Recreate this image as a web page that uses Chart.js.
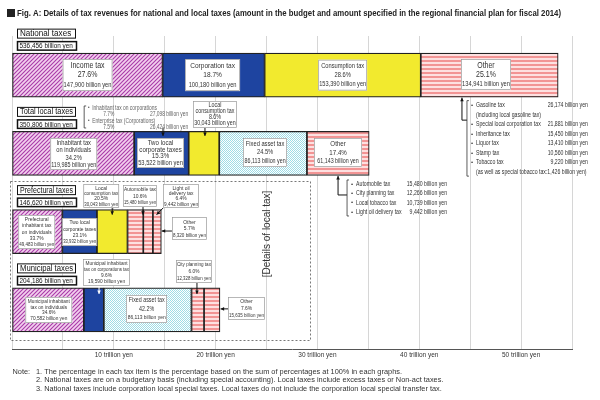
<!DOCTYPE html>
<html>
<head>
<meta charset="utf-8">
<script src="https://cdn.jsdelivr.net/npm/chart.js@4"></script>
<style>
  html, body { margin: 0; padding: 0; background: #fff; }
  canvas { display: block; }
</style>
</head>
<body>
<canvas id="c" width="600" height="400"></canvas>
<script>
// ── Data (amounts in "billion yen" as printed on the figure) ─────────────────
const ROWS = ['National taxes', 'Total local taxes', 'Prefectural taxes', 'Municipal taxes'];
const ROW_TOTALS = ['536,456', '350,806', '146,620', '204,186'];

const nationalNames  = ['Income tax', 'Corporation tax', 'Consumption tax', 'Other'];
const nationalValues = [147900, 100180, 153390, 134941];
const nationalShares = [27.6, 18.7, 28.6, 25.1];

const localNames  = ['Inhabitant tax\non individuals', 'Two local\ncorporate taxes', 'Local\nconsumption tax', 'Fixed asset tax', 'Other'];
const localValues = [119985, 53522, 30043, 86113, 61143];
const localShares = [34.2, 15.3, 8.6, 24.5, 17.4];

const prefNames  = ['Prefectural\ninhabitant tax\non individuals', 'Two local\ncorporate taxes', 'Local\nconsumption tax', 'Automobile tax', 'Light oil\ndelivery tax', 'Other'];
const prefValues = [49483, 33932, 30043, 15480, 9442, 8320];
const prefShares = [33.7, 23.1, 20.5, 10.6, 6.4, 5.7];

const muniNames  = ['Municipal inhabitant\ntax on individuals', 'Municipal inhabitant\ntax on corporations tax', 'Fixed asset tax', 'City planning tax', 'Other'];
const muniValues = [70582, 19590, 86113, 12328, 15635];
const muniShares = [34.6, 9.6, 42.2, 6.0, 7.6];

const nationalOtherItems   = ['Gasoline tax', '(including local gasoline tax)', 'Special local corporation tax', 'Inheritance tax', 'Liquor tax', 'Stamp tax', 'Tobacco tax', '(as well as special tobacco tax:1,426 billion yen)'];
const nationalOtherAmounts = [26174, null, 21881, 15450, 13410, 10560, 9220, null];
const localOtherItems   = ['Automobile tax', 'City planning tax', 'Local tobacco tax', 'Light oil delivery tax'];
const localOtherAmounts = [15480, 12266, 10739, 9442];
const corpItems   = ['Inhabitant tax on corporations', 'Enterprise tax (Corporations)'];
const corpShares  = [7.7, 7.5];
const corpAmounts = [27098, 26424];

const AXIS_MAX = 550000;
const AXIS_STEP = 50000;

const TITLE = 'Fig. A: Details of tax revenues for national and local taxes (amount in the budget and amount specified in the regional financial plan for fiscal 2014)';
const NOTES = [
  '1. The percentage in each tax item is the percentage based on the sum of percentages at 100% in each graphs.',
  '2. National taxes are on a budgetary basis (including special accounting). Local taxes include excess taxes or Non-act taxes.',
  '3. National taxes include corporation local special taxes. Local taxes do not include the corporation local special transfer tax.',
];

const ROW_NAMES  = [nationalNames, localNames, prefNames, muniNames];
const ROW_VALUES = [nationalValues, localValues, prefValues, muniValues];
const ROW_SHARES = [nationalShares, localShares, prefShares, muniShares];

// ── Styles ───────────────────────────────────────────────────────────────────
const FONT = '"Liberation Sans", Arial, sans-serif';
const FILLS = [
  ['hatch', 'blue', 'yellow', 'stripe'],
  ['hatch', 'blue', 'yellow', 'check', 'stripe'],
  ['hatch', 'blue', 'yellow', 'stripe', 'stripe', 'stripe'],
  ['hatch', 'blue', 'check', 'stripe', 'stripe'],
];

// label boxes: centre x = segment centre + dx, top = bar top + dy; arrow relative to (segment centre, bar top)
const LAYOUT = [
  [
    { dx: 0,    dy: 6,   w: 50, h: 32, fs: 8.5, fa: 7 },
    { dx: -1,   dy: 6,   w: 55, h: 32, fs: 8,   fa: 7 },
    { dx: 0,    dy: 6.5, w: 49, h: 31, fs: 7,   fa: 7 },
    { dx: -3.5, dy: 6,   w: 50, h: 31, fs: 8.5, fa: 7 },
  ],
  [
    { dx: 0.4, dy: 6.6,   w: 47, h: 32, fs: 7,   fa: 7 },
    { dx: -0.9, dy: 6.6,  w: 47, h: 30, fs: 7.5, fa: 7 },
    { dx: 11,  dy: -30.4, w: 44, h: 27, fs: 6.5, fa: 6.5, arrow: [1, -3.4, 1, 4.5] },
    { dx: 2,   dy: 6.6,   w: 44, h: 29, fs: 7,   fa: 6.5 },
    { dx: 0,   dy: 6.6,   w: 48, h: 29, fs: 7.5, fa: 6.5 },
  ],
  [
    { dx: -0.7, dy: 5.4,  w: 37, h: 34, fs: 6, fa: 5.8 },
    { dx: 0,    dy: 8.4,  w: 35, h: 28, fs: 6, fa: 5.8 },
    { dx: -11,  dy: -25.6, w: 36, h: 24, fs: 6, fa: 5.8, arrow: [0, -1.6, 0, 5] },
    { dx: 4.6,  dy: -24.6, w: 34, h: 22, fs: 6, fa: 5.8, arrow: [7.6, -2.6, 7.6, 5] },
    { dx: 33,   dy: -25.6, w: 36, h: 24, fs: 6, fa: 5.8, arrow: [15, -1.6, 8.5, 5] },
    { dx: 32.3, dy: 7.4,  w: 35, h: 23, fs: 6, fa: 5.8, arrow: [15, 21.4, 4.6, 21.4] },
  ],
  [
    { dx: 0.6,  dy: 9,   w: 47, h: 26, fs: 5.8, fa: 5.8 },
    { dx: 12.7, dy: -29, w: 47, h: 27, fs: 5.8, fa: 5.8, arrow: [5.2, -2, 5.2, 6], arrowColor: '#fff' },
    { dx: -1,   dy: 7,   w: 41, h: 28, fs: 6.5, fa: 6 },
    { dx: -3.8, dy: -28, w: 36, h: 23, fs: 5.8, fa: 5.8, arrow: [-0.8, -5, -0.8, 6] },
    { dx: 34.5, dy: 9,   w: 37, h: 23, fs: 6,   fa: 5.8, arrow: [16, 21, 8.6, 21] },
  ],
];

function makePattern(w, h, draw) {
  const cv = document.createElement('canvas');
  cv.width = w; cv.height = h;
  const g = cv.getContext('2d');
  draw(g);
  return g.createPattern(cv, 'repeat');
}

const PAT = {
  blue: '#1e44a0',
  yellow: '#f2ea2e',
  hatch: makePattern(4, 4, g => {
    g.fillStyle = '#f3d0ee'; g.fillRect(0, 0, 4, 4);
    g.strokeStyle = '#a83aa8'; g.lineWidth = 1.1;
    [[0, 4, 4, 0], [-1, 1, 1, -1], [3, 5, 5, 3]].forEach(([a, b, c, d]) => {
      g.beginPath(); g.moveTo(a, b); g.lineTo(c, d); g.stroke();
    });
  }),
  stripe: makePattern(1, 4, g => {
    g.fillStyle = '#f29494'; g.fillRect(0, 0, 1, 2);
    g.fillStyle = '#fde0e0'; g.fillRect(0, 2, 1, 2);
  }),
  check: makePattern(2, 2, g => {
    g.fillStyle = '#ffffff'; g.fillRect(0, 0, 2, 2);
    g.fillStyle = '#9fdce6'; g.fillRect(0, 0, 1, 1); g.fillRect(1, 1, 1, 1);
  }),
};

// ── Drawing helpers ──────────────────────────────────────────────────────────
function txt(ctx, s, x, y, size, opts = {}) {
  const { align = 'center', sx = 0.82, bold = false, color = '#333', fit = 0 } = opts;
  ctx.save();
  ctx.font = `${bold ? 'bold ' : ''}${size}px ${FONT}`;
  let k = sx;
  if (fit) k = Math.min(sx, fit / ctx.measureText(s).width);
  ctx.fillStyle = color;
  ctx.textBaseline = 'middle';
  ctx.textAlign = align;
  ctx.translate(x, y);
  ctx.scale(k, 1);
  ctx.fillText(s, 0, 0);
  ctx.restore();
}

function arrow(ctx, x1, y1, x2, y2, color = '#111') {
  ctx.save();
  ctx.strokeStyle = color; ctx.fillStyle = color; ctx.lineWidth = 1;
  ctx.beginPath(); ctx.moveTo(x1, y1); ctx.lineTo(x2, y2); ctx.stroke();
  const a = Math.atan2(y2 - y1, x2 - x1), L = 3.5, W = 1.8;
  ctx.beginPath();
  ctx.moveTo(x2, y2);
  ctx.lineTo(x2 - L * Math.cos(a) + W * Math.sin(a), y2 - L * Math.sin(a) - W * Math.cos(a));
  ctx.lineTo(x2 - L * Math.cos(a) - W * Math.sin(a), y2 - L * Math.sin(a) + W * Math.cos(a));
  ctx.closePath(); ctx.fill();
  ctx.restore();
}

function bracket(ctx, x, y1, y2) {
  ctx.save();
  ctx.strokeStyle = '#333'; ctx.lineWidth = 0.8;
  ctx.beginPath();
  ctx.moveTo(x + 2, y1); ctx.lineTo(x, y1); ctx.lineTo(x, y2); ctx.lineTo(x + 2, y2);
  ctx.stroke();
  ctx.restore();
}

function box(ctx, x, y, w, h, lw = 0.7, stroke = '#999') {
  ctx.save();
  ctx.fillStyle = '#fff';
  ctx.fillRect(x, y, w, h);
  ctx.strokeStyle = stroke; ctx.lineWidth = lw;
  ctx.strokeRect(x + 0.5, y + 0.5, w - 1, h - 1);
  ctx.restore();
}

const fmt = v => v.toLocaleString('en-US');

function segment(chart, k, r) {
  const el = chart.getDatasetMeta(k).data[r];
  const p = el.getProps(['x', 'base', 'y', 'height'], true);
  const start = Math.min(p.x, p.base), end = Math.max(p.x, p.base);
  return { start, end, mid: (start + end) / 2, top: p.y - p.height / 2, bottom: p.y + p.height / 2 };
}

// ── Annotation plugin ────────────────────────────────────────────────────────
const annotations = {
  id: 'annotations',
  afterDraw(chart) {
    const ctx = chart.ctx;

    // title
    ctx.fillStyle = '#222';
    ctx.fillRect(7, 9, 8, 8);
    txt(ctx, TITLE, 17, 13.5, 9.5, { align: 'left', bold: true, sx: 5, fit: 544, color: '#222' });

    // notes
    ctx.save();
    ctx.font = `7px ${FONT}`;
    const nsx = 366 / ctx.measureText(NOTES[0]).width;
    ctx.restore();
    txt(ctx, 'Note:', 12.5, 372, 7, { align: 'left', sx: nsx });
    NOTES.forEach((n, i) => txt(ctx, n, 36, 372 + i * 8.3, 7, { align: 'left', sx: nsx }));

    // dashed frame around local-tax details
    ctx.save();
    ctx.setLineDash([2, 2]);
    ctx.strokeStyle = '#555'; ctx.lineWidth = 0.8;
    ctx.strokeRect(10.5, 181.5, 300, 159);
    ctx.restore();
    ctx.save();
    ctx.translate(267, 234);
    ctx.rotate(-Math.PI / 2);
    txt(ctx, '[Details of local tax]', 0, 0, 10, { sx: 1, color: '#333' });
    ctx.restore();

    ROWS.forEach((name, r) => {
      const first = segment(chart, 0, r);
      // row name + total
      box(ctx, 17, first.top - 24.5, 59, 10, 1, '#111');
      txt(ctx, name, 20, first.top - 19.3, 8.5, { align: 'left', sx: 0.95, fit: 53, color: '#111' });
      box(ctx, 17, first.top - 12, 60, 9.5, 1.5, '#111');
      txt(ctx, `${ROW_TOTALS[r]} billion yen`, 19.5, first.top - 7, 8, { align: 'left', sx: 0.8, fit: 55, color: '#111' });

      // segment labels
      ROW_VALUES[r].forEach((v, k) => {
        const s = segment(chart, k, r);
        const L = LAYOUT[r][k];
        if (L.arrow) {
          const [x1, y1, x2, y2] = L.arrow;
          arrow(ctx, s.mid + x1, s.top + y1, s.mid + x2, s.top + y2, L.arrowColor || '#111');
        }
        const bx = s.mid + L.dx - L.w / 2, by = s.top + L.dy;
        box(ctx, bx, by, L.w, L.h);
        const lines = ROW_NAMES[r][k].split('\n').map(t => [t, L.fs]);
        lines.push([`${ROW_SHARES[r][k].toFixed(1)}%`, L.fs]);
        lines.push([`${fmt(v)} billion yen`, L.fa]);
        const step = (L.h - 3) / lines.length;
        lines.forEach(([t, size], i) => txt(ctx, t, s.mid + L.dx, by + 1.5 + step * (i + 0.5), size, { fit: L.w - 2 }));
      });
    });

    // national "Other" breakdown
    const nOther = segment(chart, 3, 0);
    const ax = nOther.mid - 27.5, bx = ax + 5;
    ctx.save(); ctx.strokeStyle = '#111'; ctx.lineWidth = 1;
    ctx.beginPath(); ctx.moveTo(ax, nOther.bottom + 23); ctx.lineTo(bx, nOther.bottom + 23); ctx.stroke();
    ctx.restore();
    arrow(ctx, ax, nOther.bottom + 23, ax, nOther.bottom + 0.5);
    bracket(ctx, bx, nOther.bottom + 3.5, nOther.bottom + 79);
    nationalOtherItems.forEach((t, i) => {
      const y = nOther.bottom + 8.4 + i * 9.5;
      const sub = nationalOtherAmounts[i] === null;
      if (!sub) txt(ctx, '•', bx + 5, y, 6, { sx: 1 });
      txt(ctx, t, bx + 9, y, 7, { align: 'left', sx: 0.74 });
      if (!sub) txt(ctx, `${fmt(nationalOtherAmounts[i])} billion yen`, bx + 121, y, 7, { align: 'right', sx: 0.74 });
    });

    // total local "Other" breakdown
    const lOther = segment(chart, 4, 1);
    const lx = lOther.mid, lb = lx + 9;
    ctx.save(); ctx.strokeStyle = '#111'; ctx.lineWidth = 1;
    ctx.beginPath(); ctx.moveTo(lx, lOther.bottom + 19.6); ctx.lineTo(lb, lOther.bottom + 19.6); ctx.stroke();
    ctx.restore();
    arrow(ctx, lx, lOther.bottom + 19.6, lx, lOther.bottom + 0.5);
    bracket(ctx, lb, lOther.bottom + 4.6, lOther.bottom + 40.6);
    localOtherItems.forEach((t, i) => {
      const y = lOther.bottom + 8.6 + i * 9.3;
      txt(ctx, '•', lb + 5, y, 6, { sx: 1 });
      txt(ctx, t, lb + 9, y, 7, { align: 'left', sx: 0.74 });
      txt(ctx, `${fmt(localOtherAmounts[i])} billion yen`, lb + 100, y, 7, { align: 'right', sx: 0.74 });
    });

    // two local corporate taxes breakdown
    const corp = segment(chart, 1, 1);
    const cx = corp.start - 50;
    bracket(ctx, cx, corp.top - 25.4, corp.top - 3.4);
    corpItems.forEach((t, i) => {
      const y = corp.top - 23.4 + i * 13;
      txt(ctx, '•', cx + 4.5, y, 5.5, { sx: 1, color: '#666' });
      txt(ctx, t, cx + 8, y, 6.3, { align: 'left', sx: 0.78, color: '#666' });
      txt(ctx, `${corpShares[i].toFixed(1)}%`, cx + 19, y + 6.5, 6.3, { align: 'left', sx: 0.78, color: '#666' });
      txt(ctx, `${fmt(corpAmounts[i])} billion yen`, cx + 104, y + 6.5, 6.3, { align: 'right', sx: 0.78, color: '#666' });
    });
    arrow(ctx, corp.mid + 1.6, corp.top - 3.4, corp.mid + 1.6, corp.top + 4.5);
  },
};

// ── Chart ────────────────────────────────────────────────────────────────────
const maxSegments = Math.max(...ROW_VALUES.map(v => v.length));
const datasets = Array.from({ length: maxSegments }, (_, k) => ({
  data: ROW_VALUES.map(vals => (k < vals.length ? vals[k] : null)),
  backgroundColor: FILLS.map(f => (f[k] ? PAT[f[k]] : 'transparent')),
  borderColor: '#222',
  borderWidth: 1.2,
  borderSkipped: false,
  barThickness: 44,
}));

Chart.defaults.font.family = FONT;

new Chart(document.getElementById('c'), {
  type: 'bar',
  data: { labels: ROWS, datasets },
  options: {
    responsive: false,
    animation: false,
    indexAxis: 'y',
    layout: { padding: { left: 12, right: 28, top: 36, bottom: 0 } },
    plugins: { legend: { display: false }, tooltip: { enabled: false } },
    scales: {
      x: {
        stacked: true,
        min: 0,
        max: AXIS_MAX,
        afterFit: s => { s.height = 51; },
        ticks: {
          stepSize: AXIS_STEP,
          autoSkip: false,
          maxRotation: 0,
          padding: 2,
          color: '#333',
          font: { size: 6.5 },
          callback: v => (v && v % 100000 === 0 ? `${v / 10000} trillion yen` : ''),
        },
        grid: { color: '#d6d6d6', drawTicks: false },
        border: { color: '#555' },
      },
      y: { stacked: true, display: false },
    },
  },
  plugins: [annotations],
});
</script>
</body>
</html>
